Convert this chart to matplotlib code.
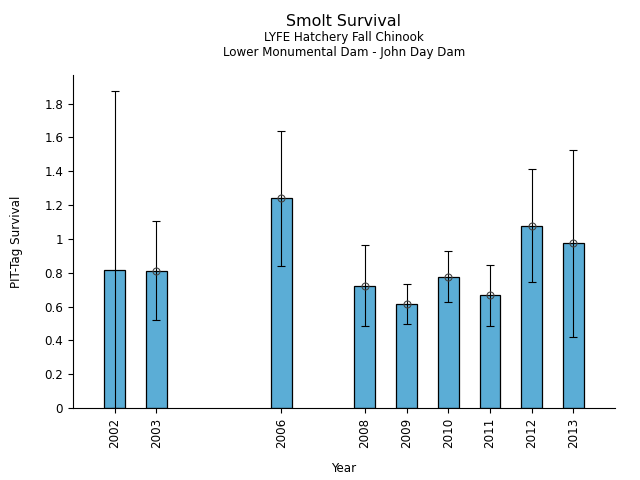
import matplotlib
matplotlib.use('Agg')
import matplotlib.pyplot as plt
from matplotlib.ticker import FuncFormatter

years = [2002, 2003, 2006, 2008, 2009, 2010, 2011, 2012, 2013]
survival = [0.817, 0.811, 1.243, 0.722, 0.616, 0.776, 0.669, 1.078, 0.977]
upper = [1.877, 1.107, 1.640, 0.965, 0.734, 0.930, 0.847, 1.415, 1.527]
lower = [0.0, 0.521, 0.841, 0.485, 0.497, 0.628, 0.485, 0.746, 0.420]
show_marker = [False, True, True, True, True, True, True, True, True]

fig = plt.figure(figsize=(6.4, 4.8), dpi=100)
ax = fig.add_axes([0.114, 0.15, 0.847, 0.694])

ax.bar(years, survival, width=0.5, color='#5badd6', edgecolor='black', linewidth=0.9, zorder=2)
err_lo = [s - l for s, l in zip(survival, lower)]
err_hi = [u - s for s, u in zip(survival, upper)]
ax.errorbar(years, survival, yerr=[err_lo, err_hi], fmt='none', ecolor='black',
            elinewidth=0.8, capsize=3, capthick=0.8, zorder=3)
mx = [y for y, m in zip(years, show_marker) if m]
my = [s for s, m in zip(survival, show_marker) if m]
ax.plot(mx, my, 'o', mfc='none', mec='#444444', ms=5, mew=0.8, zorder=4)

ax.set_xlim(2001, 2014)
ax.set_ylim(0, 1.97)
ax.set_xticks(years)
ax.set_xticklabels([str(y) for y in years], rotation=90, fontsize=8.6)
ax.set_yticks([0, 0.2, 0.4, 0.6, 0.8, 1, 1.2, 1.4, 1.6, 1.8])
ax.yaxis.set_major_formatter(FuncFormatter(lambda v, p: '%g' % round(v, 1)))
ax.tick_params(axis='y', labelsize=8.6)
ax.spines['top'].set_visible(False)
ax.spines['right'].set_visible(False)
ax.set_xlabel('Year', fontsize=8.6, labelpad=10)
ax.set_ylabel('PIT-Tag Survival', fontsize=8.6, labelpad=15)

fig.text(0.537, 0.955, 'Smolt Survival', ha='center', va='center', fontsize=11.4)
fig.text(0.537, 0.921, 'LYFE Hatchery Fall Chinook', ha='center', va='center', fontsize=8.6)
fig.text(0.537, 0.891, 'Lower Monumental Dam - John Day Dam', ha='center', va='center', fontsize=8.6)

fig.savefig('out.png', dpi=100)
